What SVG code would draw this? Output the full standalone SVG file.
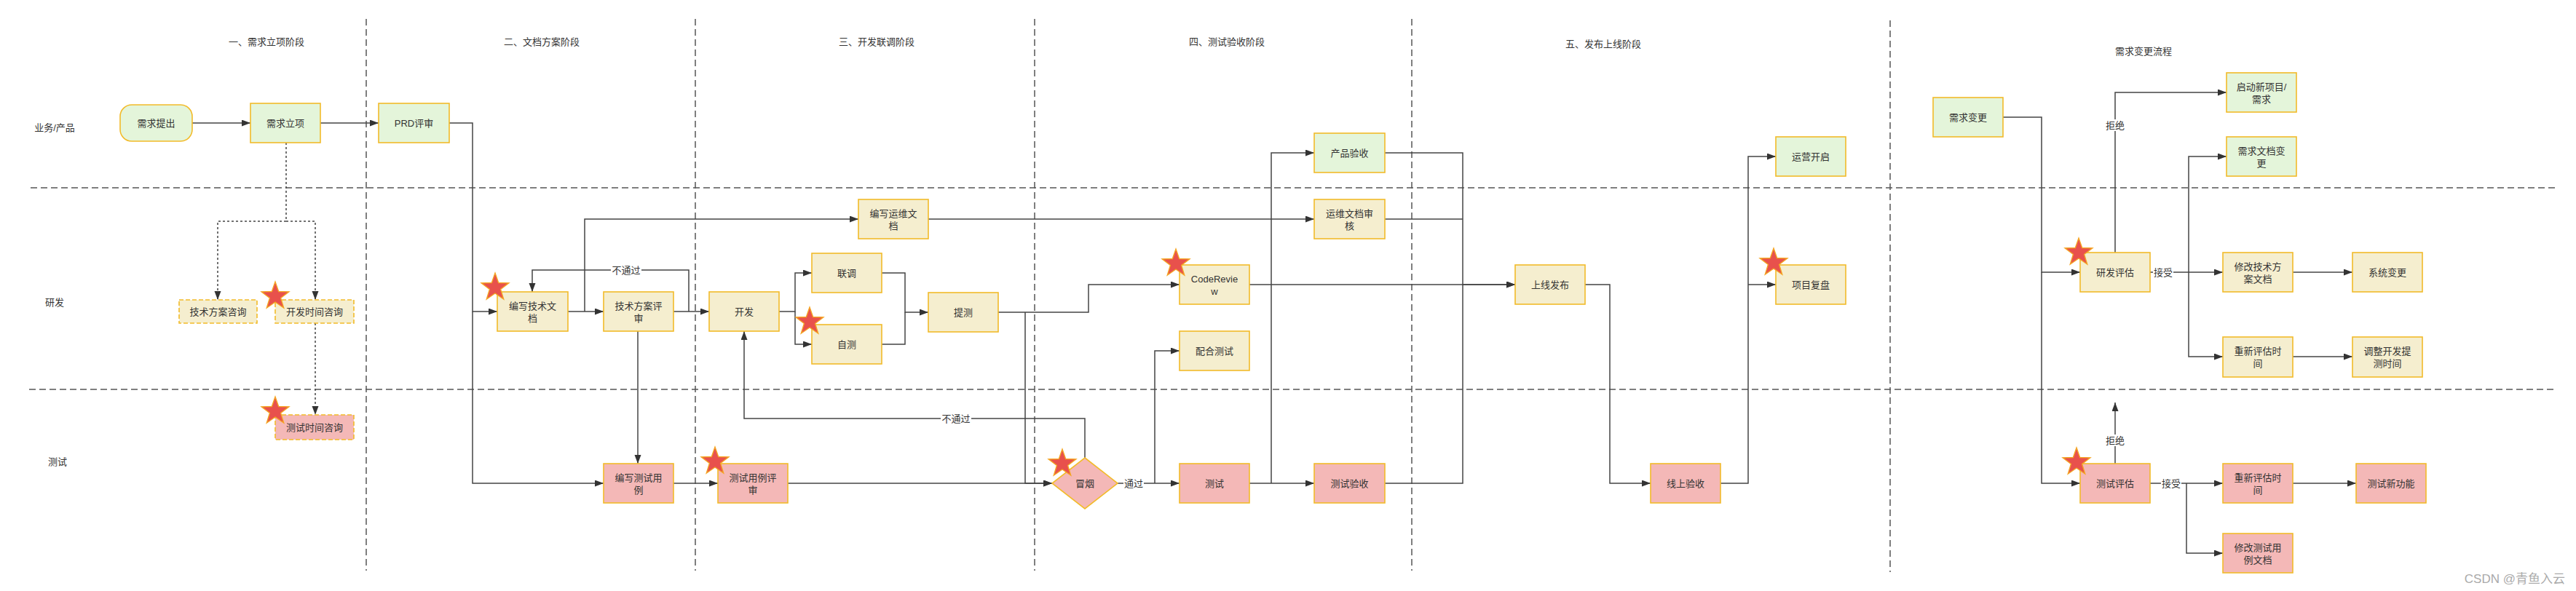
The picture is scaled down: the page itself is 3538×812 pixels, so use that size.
<svg xmlns="http://www.w3.org/2000/svg" xmlns:xlink="http://www.w3.org/1999/xlink" width="3538" height="812" viewBox="0 0 3538 812">
<style>
text{font-family:"Liberation Sans","Noto Sans CJK SC",sans-serif;font-size:13px;fill:#333;text-anchor:middle;dominant-baseline:central}
.g{fill:#e4f5da;stroke:#f2bb2a;stroke-width:1.6}
.y{fill:#f5eecf;stroke:#f2bb2a;stroke-width:1.6}
.p{fill:#f4b8b7;stroke:#f2bb2a;stroke-width:1.6}
.d{stroke-dasharray:6 3}
.lane{stroke:#555;stroke-width:1.5;stroke-dasharray:9 5;fill:none}
.c{fill:none;stroke:#444;stroke-width:1.5;marker-end:url(#ah)}
.cn{fill:none;stroke:#444;stroke-width:1.5}
.dot{stroke-dasharray:3 3}
.lb{fill:#fff}
.star{fill:#e8514c;stroke:#f5a623;stroke-width:1.3}
.wm{fill:#aaa;font-size:17px;text-anchor:end}
</style>
<defs>
<marker id="ah" markerUnits="userSpaceOnUse" markerWidth="12" markerHeight="10" refX="12" refY="4.5" orient="auto">
<path d="M0,0 L12,4.5 L0,9 Z" fill="#333"/>
</marker>
<path id="st" d="M0,-20 L4.7,-6.5 L19,-6.2 L7.6,2.5 L11.8,16.2 L0,8 L-11.8,16.2 L-7.6,2.5 L-19,-6.2 L-4.7,-6.5 Z"/>
</defs>
<rect width="3538" height="812" fill="#fff"/>

<g id="lanes">
<line class="lane" x1="42" y1="258" x2="3510" y2="258"/>
<line class="lane" x1="40" y1="535" x2="3512" y2="535"/>
<line class="lane" x1="503" y1="26" x2="503" y2="784"/>
<line class="lane" x1="955" y1="26" x2="955" y2="784"/>
<line class="lane" x1="1421" y1="26" x2="1421" y2="784"/>
<line class="lane" x1="1939" y1="26" x2="1939" y2="784"/>
<line class="lane" x1="2596" y1="28" x2="2596" y2="786"/>
<text x="75" y="175">业务/产品</text>
<text x="75" y="415">研发</text>
<text x="79" y="634">测试</text>
<text x="366" y="57">一、需求立项阶段</text>
<text x="744" y="57">二、文档方案阶段</text>
<text x="1204" y="57">三、开发联调阶段</text>
<text x="1685" y="57">四、测试验收阶段</text>
<text x="2202" y="60">五、发布上线阶段</text>
<text x="2944" y="70">需求变更流程</text>
</g>

<g id="connectors">
<path class="c" d="M264,169 H344"/>
<path class="c" d="M440,169 H520"/>
<path class="c dot" d="M393,196 V304 H299 V412"/>
<path class="c dot" d="M393,304 H433 V412"/>
<path class="c dot" d="M433,444 V570"/>
<path class="c" d="M617,169 H649 V428 H683"/>
<path class="c" d="M649,428 V664 H829"/>
<path class="c" d="M780,428 H829"/>
<path class="c" d="M803,428 V301 H1179"/>
<path class="c" d="M925,428 H974"/>
<path class="c" d="M946,428 V371 H731 V401"/>
<path class="c" d="M876,455 V637"/>
<path class="c" d="M925,664 H986"/>
<path class="c" d="M1082,664 H1445"/>
<path class="c" d="M1070,428 H1092 V375 H1115"/>
<path class="c" d="M1092,428 V473 H1115"/>
<path class="c" d="M1211,375 H1243 V429 H1275"/>
<path class="cn" d="M1211,473 H1243 V429"/>
<path class="c" d="M1371,429 H1495 V391 H1620"/>
<path class="c" d="M1408,429 V664 H1445"/>
<path class="c" d="M1490,629 V575 H1022 V455"/>
<path class="c" d="M1535,664 H1620"/>
<path class="c" d="M1586,664 V482 H1620"/>
<path class="c" d="M1716,664 H1805"/>
<path class="c" d="M1746,664 V210 H1805"/>
<path class="c" d="M1275,301 H1805"/>
<path class="c" d="M1716,391 H2081"/>
<path class="c" d="M1902,210 H2009 V391 H2081"/>
<path class="cn" d="M1902,301 H2009"/>
<path class="cn" d="M1902,664 H2009 V391"/>
<path class="c" d="M2177,391 H2211 V664 H2267"/>
<path class="c" d="M2363,664 H2401 V215 H2439"/>
<path class="c" d="M2401,391 H2439"/>
<path class="c" d="M2751,161 H2804 V374 H2857"/>
<path class="c" d="M2804,374 V664 H2857"/>
<path class="c" d="M2905,347 V127 H3058"/>
<path class="c" d="M2953,374 H3053"/>
<path class="c" d="M3006,374 V215 H3058"/>
<path class="c" d="M3006,374 V490 H3053"/>
<path class="c" d="M3149,374 H3231"/>
<path class="c" d="M3149,490 H3231"/>
<path class="c" d="M2905,637 V553"/>
<path class="c" d="M2953,664 H3053"/>
<path class="c" d="M3003,664 V760 H3053"/>
<path class="c" d="M3149,664 H3236"/>
<rect class="lb" x="839" y="363" width="42" height="16"/><text x="860" y="371">不通过</text>
<rect class="lb" x="1292" y="567" width="42" height="16"/><text x="1313" y="575">不通过</text>
<rect class="lb" x="1543" y="656" width="28" height="16"/><text x="1557" y="664">通过</text>
<rect class="lb" x="2891" y="164" width="28" height="16"/><text x="2905" y="172">拒绝</text>
<rect class="lb" x="2957" y="366" width="28" height="16"/><text x="2971" y="374">接受</text>
<rect class="lb" x="2891" y="597" width="28" height="16"/><text x="2905" y="605">拒绝</text>
<rect class="lb" x="2968" y="656" width="28" height="16"/><text x="2982" y="664">接受</text>
</g>

<g id="n_xqtc"><rect class="g" x="165" y="144" width="99" height="50" rx="16"/><text x="214.5" y="169">需求提出</text></g>
<g id="n_xqlx"><rect class="g" x="344" y="142" width="96" height="54"/><text x="392" y="169">需求立项</text></g>
<g id="n_prd"><rect class="g" x="520" y="142" width="97" height="54"/><text x="568.5" y="169">PRD评审</text></g>
<g id="n_jsfazx"><rect class="y d" x="246" y="412" width="107" height="32"/><text x="299.5" y="428">技术方案咨询</text></g>
<g id="n_kfsjzx"><rect class="y d" x="378" y="412" width="108" height="32"/><text x="432" y="428">开发时间咨询</text><use href="#st" class="star" x="378" y="407"/></g>
<g id="n_cssjzx"><rect class="p d" x="378" y="570" width="108" height="34"/><text x="432" y="587">测试时间咨询</text><use href="#st" class="star" x="378" y="565"/></g>
<g id="n_bxjswd"><rect class="y" x="683" y="401" width="97" height="54"/><text x="731.5" y="420">编写技术文</text><text x="731.5" y="437">档</text><use href="#st" class="star" x="680" y="395"/></g>
<g id="n_jsfaps"><rect class="y" x="829" y="401" width="96" height="54"/><text x="877" y="420">技术方案评</text><text x="877" y="437">审</text></g>
<g id="n_bxcsyl"><rect class="p" x="829" y="637" width="96" height="54"/><text x="877" y="656">编写测试用</text><text x="877" y="673">例</text></g>
<g id="n_kf"><rect class="y" x="974" y="401" width="96" height="54"/><text x="1022" y="428">开发</text></g>
<g id="n_csylps"><rect class="p" x="986" y="637" width="96" height="54"/><text x="1034" y="656">测试用例评</text><text x="1034" y="673">审</text><use href="#st" class="star" x="982" y="634"/></g>
<g id="n_bxywwd"><rect class="y" x="1179" y="274" width="96" height="54"/><text x="1227" y="293">编写运维文</text><text x="1227" y="310">档</text></g>
<g id="n_lt"><rect class="y" x="1115" y="348" width="96" height="54"/><text x="1163" y="375">联调</text></g>
<g id="n_zc"><rect class="y" x="1115" y="446" width="96" height="54"/><text x="1163" y="473">自测</text><use href="#st" class="star" x="1112" y="442"/></g>
<g id="n_tc"><rect class="y" x="1275" y="402" width="96" height="54"/><text x="1323" y="429">提测</text></g>
<g id="n_my"><polygon class="p" points="1490,629 1535,664 1490,699 1445,664"/><text x="1490" y="664">冒烟</text><use href="#st" class="star" x="1459" y="637"/></g>
<g id="n_cr"><rect class="y" x="1620" y="364" width="96" height="54"/><text x="1668" y="383">CodeRevie</text><text x="1668" y="400">w</text><use href="#st" class="star" x="1615" y="362"/></g>
<g id="n_phcs"><rect class="y" x="1620" y="455" width="96" height="54"/><text x="1668" y="482">配合测试</text></g>
<g id="n_cs"><rect class="p" x="1620" y="637" width="96" height="54"/><text x="1668" y="664">测试</text></g>
<g id="n_cpys"><rect class="g" x="1805" y="183" width="97" height="54"/><text x="1853.5" y="210">产品验收</text></g>
<g id="n_ywwdsh"><rect class="y" x="1805" y="274" width="97" height="54"/><text x="1853.5" y="293">运维文档审</text><text x="1853.5" y="310">核</text></g>
<g id="n_csys"><rect class="p" x="1805" y="637" width="97" height="54"/><text x="1853.5" y="664">测试验收</text></g>
<g id="n_sxfb"><rect class="y" x="2081" y="364" width="96" height="54"/><text x="2129" y="391">上线发布</text></g>
<g id="n_xsys"><rect class="p" x="2267" y="637" width="96" height="54"/><text x="2315" y="664">线上验收</text></g>
<g id="n_yykq"><rect class="g" x="2439" y="188" width="96" height="54"/><text x="2487" y="215">运营开启</text></g>
<g id="n_xmfp"><rect class="y" x="2439" y="364" width="96" height="54"/><text x="2487" y="391">项目复盘</text><use href="#st" class="star" x="2436" y="361"/></g>
<g id="n_xqbg"><rect class="g" x="2655" y="134" width="96" height="54"/><text x="2703" y="161">需求变更</text></g>
<g id="n_yfpg"><rect class="y" x="2857" y="347" width="96" height="54"/><text x="2905" y="374">研发评估</text><use href="#st" class="star" x="2855" y="347"/></g>
<g id="n_qdxxm"><rect class="g" x="3058" y="100" width="96" height="54"/><text x="3106" y="119">启动新项目/</text><text x="3106" y="136">需求</text></g>
<g id="n_xqwdbg"><rect class="g" x="3058" y="188" width="96" height="54"/><text x="3106" y="207">需求文档变</text><text x="3106" y="224">更</text></g>
<g id="n_xgjsfa"><rect class="y" x="3053" y="347" width="96" height="54"/><text x="3101" y="366">修改技术方</text><text x="3101" y="383">案文档</text></g>
<g id="n_xtbg"><rect class="y" x="3231" y="347" width="96" height="54"/><text x="3279" y="374">系统变更</text></g>
<g id="n_cxpgsj1"><rect class="y" x="3053" y="463" width="96" height="55"/><text x="3101" y="482">重新评估时</text><text x="3101" y="499">间</text></g>
<g id="n_tzkf"><rect class="y" x="3231" y="463" width="96" height="55"/><text x="3279" y="482">调整开发提</text><text x="3279" y="499">测时间</text></g>
<g id="n_cspg"><rect class="p" x="2857" y="637" width="96" height="54"/><text x="2905" y="664">测试评估</text><use href="#st" class="star" x="2852" y="635"/></g>
<g id="n_cxpgsj2"><rect class="p" x="3053" y="637" width="96" height="54"/><text x="3101" y="656">重新评估时</text><text x="3101" y="673">间</text></g>
<g id="n_csxgn"><rect class="p" x="3236" y="637" width="96" height="54"/><text x="3284" y="664">测试新功能</text></g>
<g id="n_xgcsyl"><rect class="p" x="3053" y="733" width="96" height="54"/><text x="3101" y="752">修改测试用</text><text x="3101" y="769">例文档</text></g>

<text class="wm" x="3523" y="795">CSDN @青鱼入云</text>
</svg>
